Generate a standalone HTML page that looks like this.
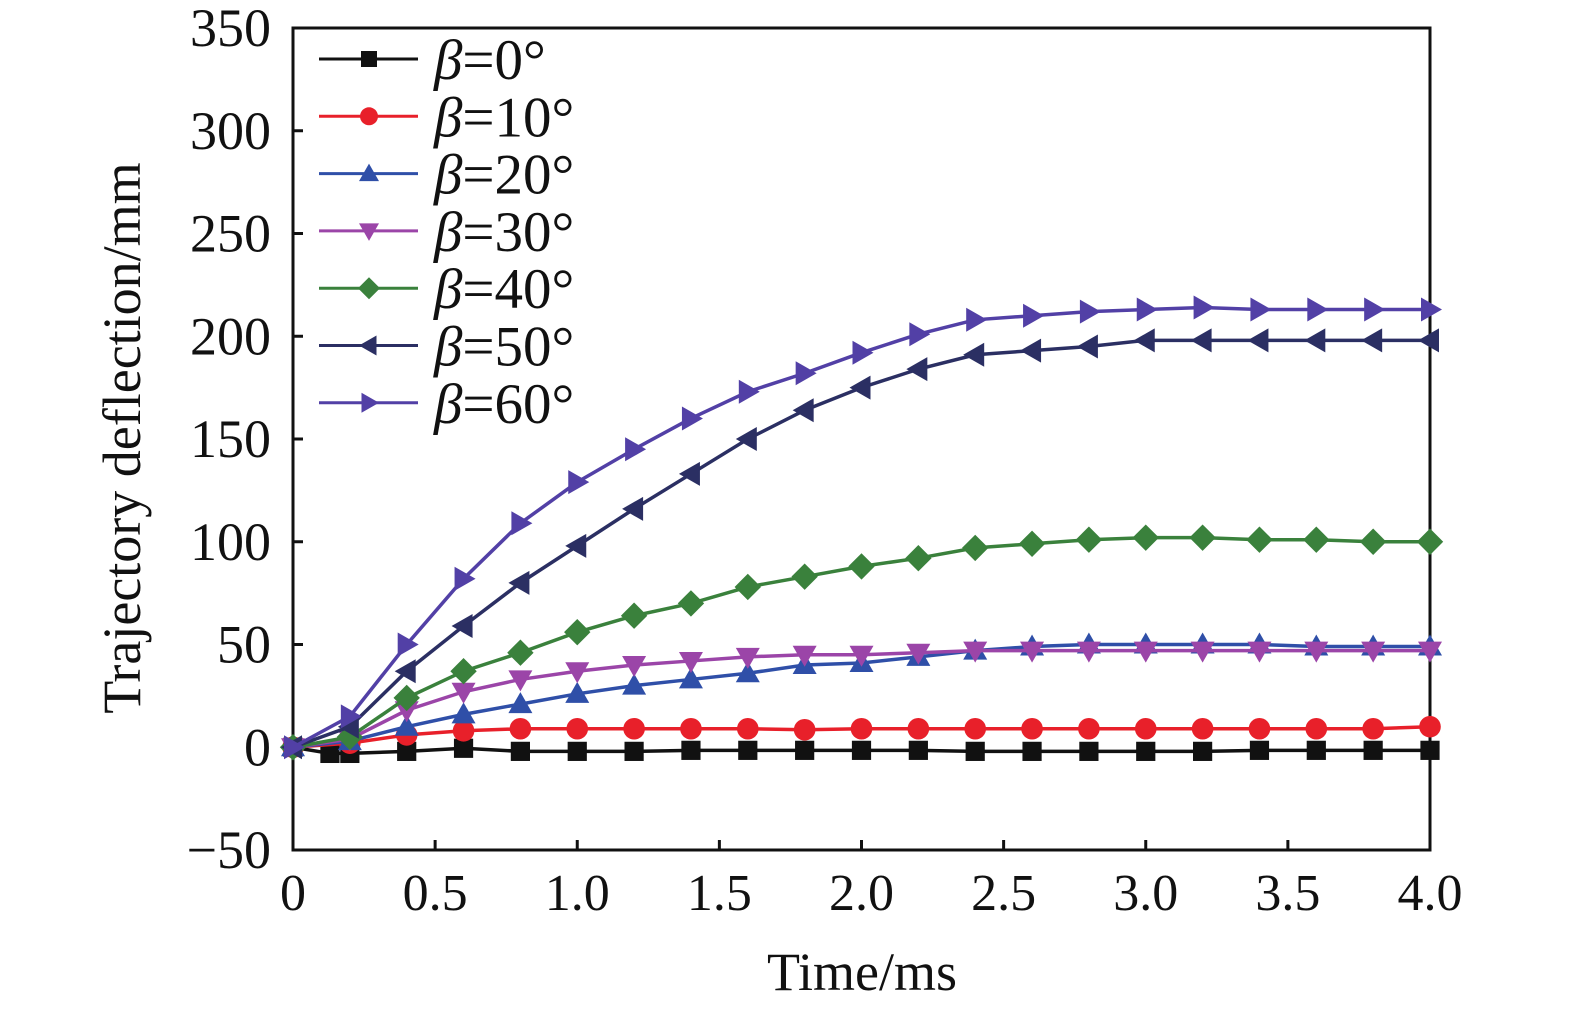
<!DOCTYPE html>
<html><head><meta charset="utf-8"><style>
html,body{margin:0;padding:0;background:#fff;}
svg text{font-family:"Liberation Serif",serif;fill:#111;}
</style></head><body>
<svg id="chart" width="1575" height="1014" xmlns="http://www.w3.org/2000/svg">
<g id="axes"></g><g id="series"></g><g id="legend"></g>
</svg>
<script>
const xsMain=[0,0.2,0.4,0.6,0.8,1.0,1.2,1.4,1.6,1.8,2.0,2.2,2.4,2.6,2.8,3.0,3.2,3.4,3.6,3.8,4.0];
const xsBlack=[0,0.13,0.2,0.4,0.6,0.8,1.0,1.2,1.4,1.6,1.8,2.0,2.2,2.4,2.6,2.8,3.0,3.2,3.4,3.6,3.8,4.0];
const s0=[0,-3,-3,-2,-0.5,-2,-2,-2,-1.5,-1.5,-1.5,-1.5,-1.5,-2,-2,-2,-2,-2,-1.5,-1.5,-1.5,-1.5];
const s10=[0,2,6,8,9,9,9,9,9,8.5,9,9,9,9,9,9,9,9,9,9,10];
const s20=[0,3,10,16,21,26,30,33,36,40,41,44,47,49,50,50,50,50,49,49,49];
const s30=[0,4,18,27,33,37,40,42,44,45,45,46,47,47,47,47,47,47,47,47,47];
const s40=[0,5,24,37,46,56,64,70,78,83,88,92,97,99,101,102,102,101,101,100,100];
const s50=[0,10,37,59,80,98,116,133,150,164,175,184,191,193,195,198,198,198,198,198,198];
const s60=[0,15,50,82,109,129,145,160,173,182,192,201,208,210,212,213,214,213,213,213,213];
const yTicks=[-50,0,50,100,150,200,250,300,350];
const xTicks=[0,0.5,1.0,1.5,2.0,2.5,3.0,3.5,4.0];
const xTickLabels=["0","0.5","1.0","1.5","2.0","2.5","3.0","3.5","4.0"];
const legendLabels=["0°","10°","20°","30°","40°","50°","60°"];

const X0=293,X1=1430,Y0=850,Y1=28;
const xs=v=>X0+(v-0)/4*(X1-X0);
const ys=v=>Y0-(v+50)/400*(Y0-Y1);
const NS="http://www.w3.org/2000/svg";
function mk(tag,attrs,parent){const e=document.createElementNS(NS,tag);for(const k in attrs)e.setAttribute(k,attrs[k]);parent.appendChild(e);return e;}
const axes=document.getElementById('axes');
const frame=mk('rect',{x:X0,y:Y1,width:X1-X0,height:Y0-Y1,fill:'none',stroke:'#111','stroke-width':3},axes);


yTicks.forEach(t=>{
  const y=ys(t);
  const l=mk('line',{x1:X0,x2:X0+10,y1:y,y2:y,stroke:'#111','stroke-width':3},axes);
  
  
  const tx=mk('text',{x:X0-22,y:y+18,'text-anchor':'end','font-size':54},axes);
  tx.textContent=t<0?'\u2212'+(-t):String(t);
  
  
});
xTicks.forEach((t,i)=>{
  const x=xs(t);
  const l=mk('line',{x1:x,x2:x,y1:Y0,y2:Y0-10,stroke:'#111','stroke-width':3},axes);
  
  
  const tx=mk('text',{x:x,y:910,'text-anchor':'middle','font-size':52},axes);
  tx.textContent=xTickLabels[i];
  
  
});
const xt=mk('text',{x:862,y:990,'text-anchor':'middle','font-size':54},axes);
xt.textContent='Time/ms';


const yt=mk('text',{x:0,y:0,'text-anchor':'middle','font-size':54,transform:'translate(140,438) rotate(-90)'},axes);
yt.textContent='Trajectory deflection/mm';



const colors=['#111111','#e8202a','#2f4fa8','#9b45a8','#3a813c','#2b2f63','#5240a6'];
const shapes=['square','circle','up','down','diamond','left','right'];
const seriesData=[s0,s10,s20,s30,s40,s50,s60];
const seriesX=[xsBlack,xsMain,xsMain,xsMain,xsMain,xsMain,xsMain];
function marker(g,shape,x,y,c,sz){
  const r=sz;
  if(shape==='square')return mk('rect',{x:x-r*0.8,y:y-r*0.8,width:r*1.6,height:r*1.6,fill:c},g);
  if(shape==='circle')return mk('circle',{cx:x,cy:y,r:r*0.9,fill:c},g);
  let p;
  if(shape==='up')p=[[x,y-r],[x+r,y+r*0.75],[x-r,y+r*0.75]];
  if(shape==='down')p=[[x,y+r],[x+r,y-r*0.75],[x-r,y-r*0.75]];
  if(shape==='left')p=[[x-r,y],[x+r*0.75,y-r],[x+r*0.75,y+r]];
  if(shape==='right')p=[[x+r,y],[x-r*0.75,y-r],[x-r*0.75,y+r]];
  if(shape==='diamond')p=[[x,y-r*1.1],[x+r*1.1,y],[x,y+r*1.1],[x-r*1.1,y]];
  return mk('polygon',{points:p.map(q=>q.join(',')).join(' '),fill:c},g);
}
const sg=document.getElementById('series');
seriesData.forEach((d,i)=>{
  const g=mk('g',{},sg);
  
  
  const pts=d.map((v,j)=>xs(seriesX[i][j])+','+ys(v)).join(' ');
  const pl=mk('polyline',{points:pts,fill:'none',stroke:colors[i],'stroke-width':3.5},g);
  
  
  d.forEach((v,j)=>{
    const m=marker(g,shapes[i],xs(seriesX[i][j]),ys(v),colors[i],12);
    
    
  });
});
const lg=document.getElementById('legend');
legendLabels.forEach((lab,i)=>{
  const y=59+i*57.3;
  const g=mk('g',{},lg);
  
  
  mk('line',{x1:319,x2:418,y1:y,y2:y,stroke:colors[i],'stroke-width':3},g);
  marker(g,shapes[i],369,y,colors[i],10);
  const t=mk('text',{x:434,y:y+20,'font-size':57},g);
  const b=mk('tspan',{'font-style':'italic'},t);b.textContent='β';
  const r=mk('tspan',{},t);r.textContent='='+lab;
});
</script>
</body></html>
